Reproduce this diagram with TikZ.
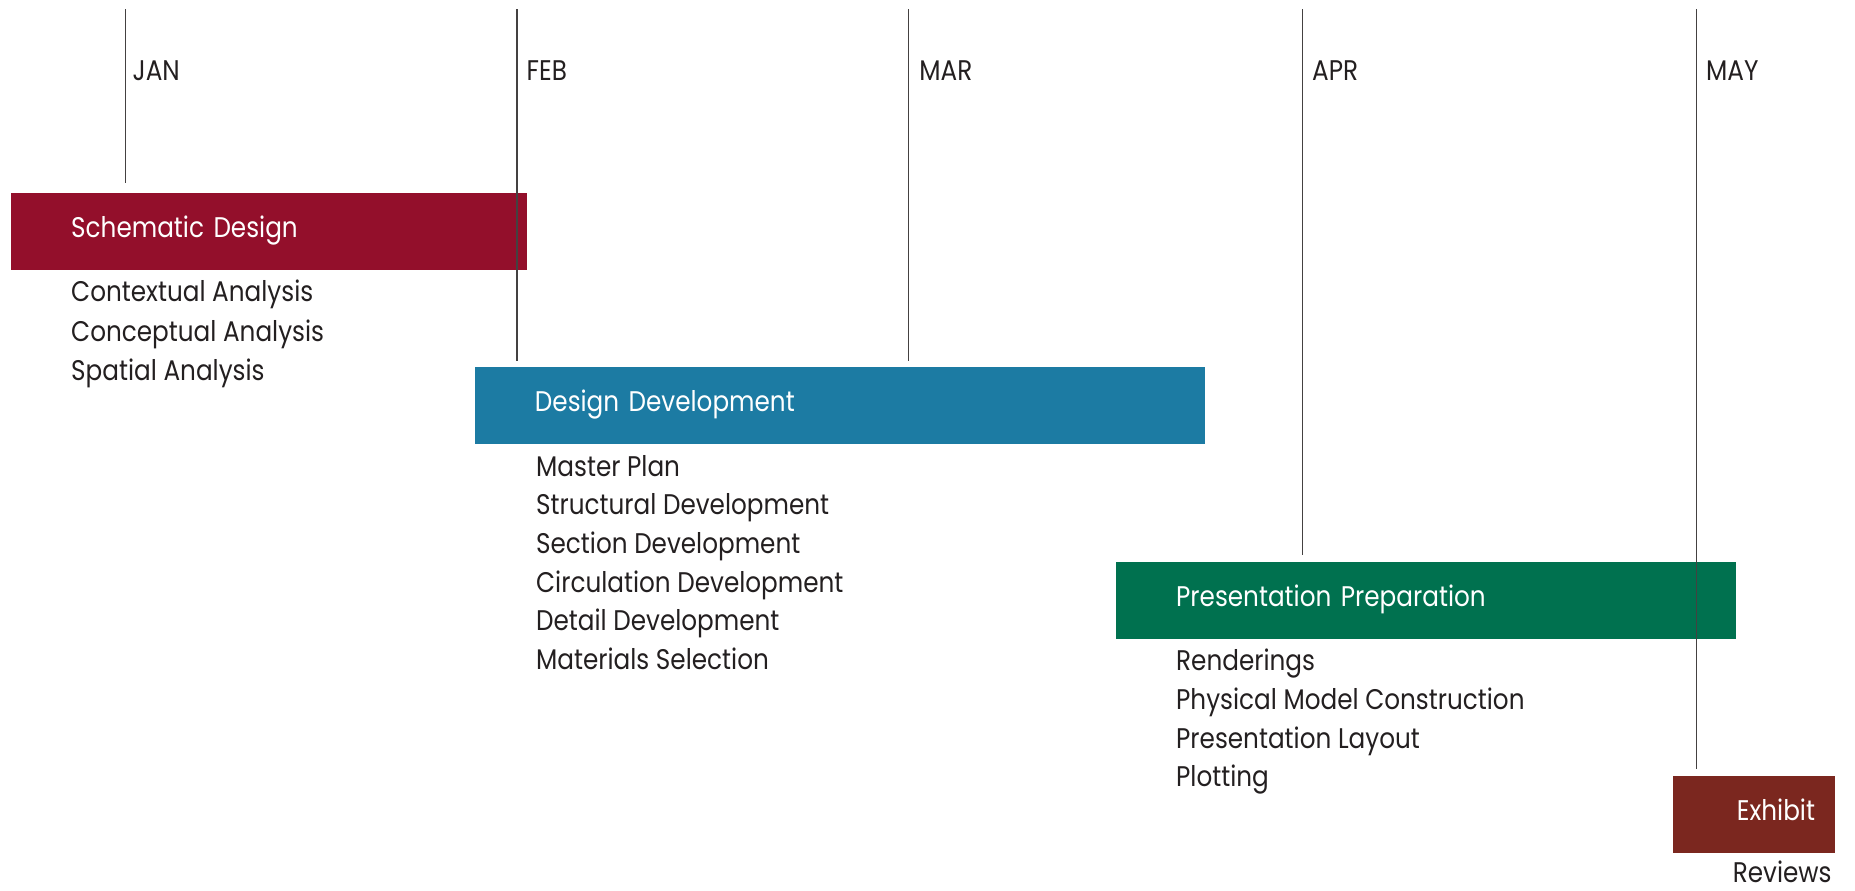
\documentclass[tikz,border=0pt]{standalone}
\usepackage{fontspec}
\setmainfont{Poppins}[FakeStretch=0.87]
\usetikzlibrary{positioning}

\definecolor{sdred}{HTML}{930F2B}
\definecolor{ddblue}{HTML}{1C7BA3}
\definecolor{ppgreen}{HTML}{00714F}
\definecolor{exbrown}{HTML}{7B271F}
\definecolor{ink}{HTML}{231F20}

\tikzstyle{monthline} = [draw=ink!85, line width=1.1pt]
\tikzstyle{monthlabel} = [anchor=west, inner sep=0pt, text=ink, font=\fontsize{24}{28}\selectfont]
\tikzstyle{phase} = [rectangle, anchor=north west, minimum height=65pt, inner xsep=51pt, inner ysep=0pt, text=white, align=left, text depth=8pt, font=\fontsize{24}{28}\selectfont]
\tikzstyle{tasks} = [inner sep=0pt, text=ink, align=left, font=\fontsize{24}{32.7}\selectfont]

\begin{document}
\begin{tikzpicture}[x=1pt, y=-1pt]
        \useasboundingbox (0,0) rectangle (1568,753);

        % phases
        \node (sd) [phase, fill=sdred, minimum width=436pt, text width=334pt] at (9,163) {Schematic Design};
        \node (dd) [phase, fill=ddblue, minimum width=617pt, text width=515pt] at (401,310) {Design Development};
        \node (pp) [phase, fill=ppgreen, minimum width=524pt, text width=422pt] at (943,475) {Presentation Preparation};
        \node (ex) [phase, fill=exbrown, minimum width=137pt, inner xsep=17pt, text width=103pt, align=right] at (1414,656) {Exhibit};

        % tasks under each phase
        \node (sdtasks) [tasks, below right=8pt and 51pt of sd.south west, font=\fontsize{24}{33.5}\selectfont] {Contextual Analysis\\Conceptual Analysis\\Spatial Analysis};
        \node (ddtasks) [tasks, below right=9pt and 52pt of dd.south west] {Master Plan\\Structural Development\\Section Development\\Circulation Development\\Detail Development\\Materials Selection};
        \node (pptasks) [tasks, below right=8pt and 51pt of pp.south west] {Renderings\\Physical Model Construction\\Presentation Layout\\Plotting};
        \node (extasks) [tasks, below left=6pt and 3pt of ex.south east] {Reviews};

        % months
        \draw [monthline] (106,8) -- (106,155);
        \draw [monthline] (437,8) -- (437,305);
        \draw [monthline] (768,8) -- (768,305);
        \draw [monthline] (1101,8) -- (1101,469);
        \draw [monthline] (1434,8) -- (1434,650);
        \node (jan) [monthlabel] at (112,60) {JAN};
        \node (feb) [monthlabel] at (445,60) {FEB};
        \node (mar) [monthlabel] at (777,60) {MAR};
        \node (apr) [monthlabel] at (1109,60) {APR};
        \node (may) [monthlabel] at (1442,60) {MAY};

\end{tikzpicture}
\end{document}
